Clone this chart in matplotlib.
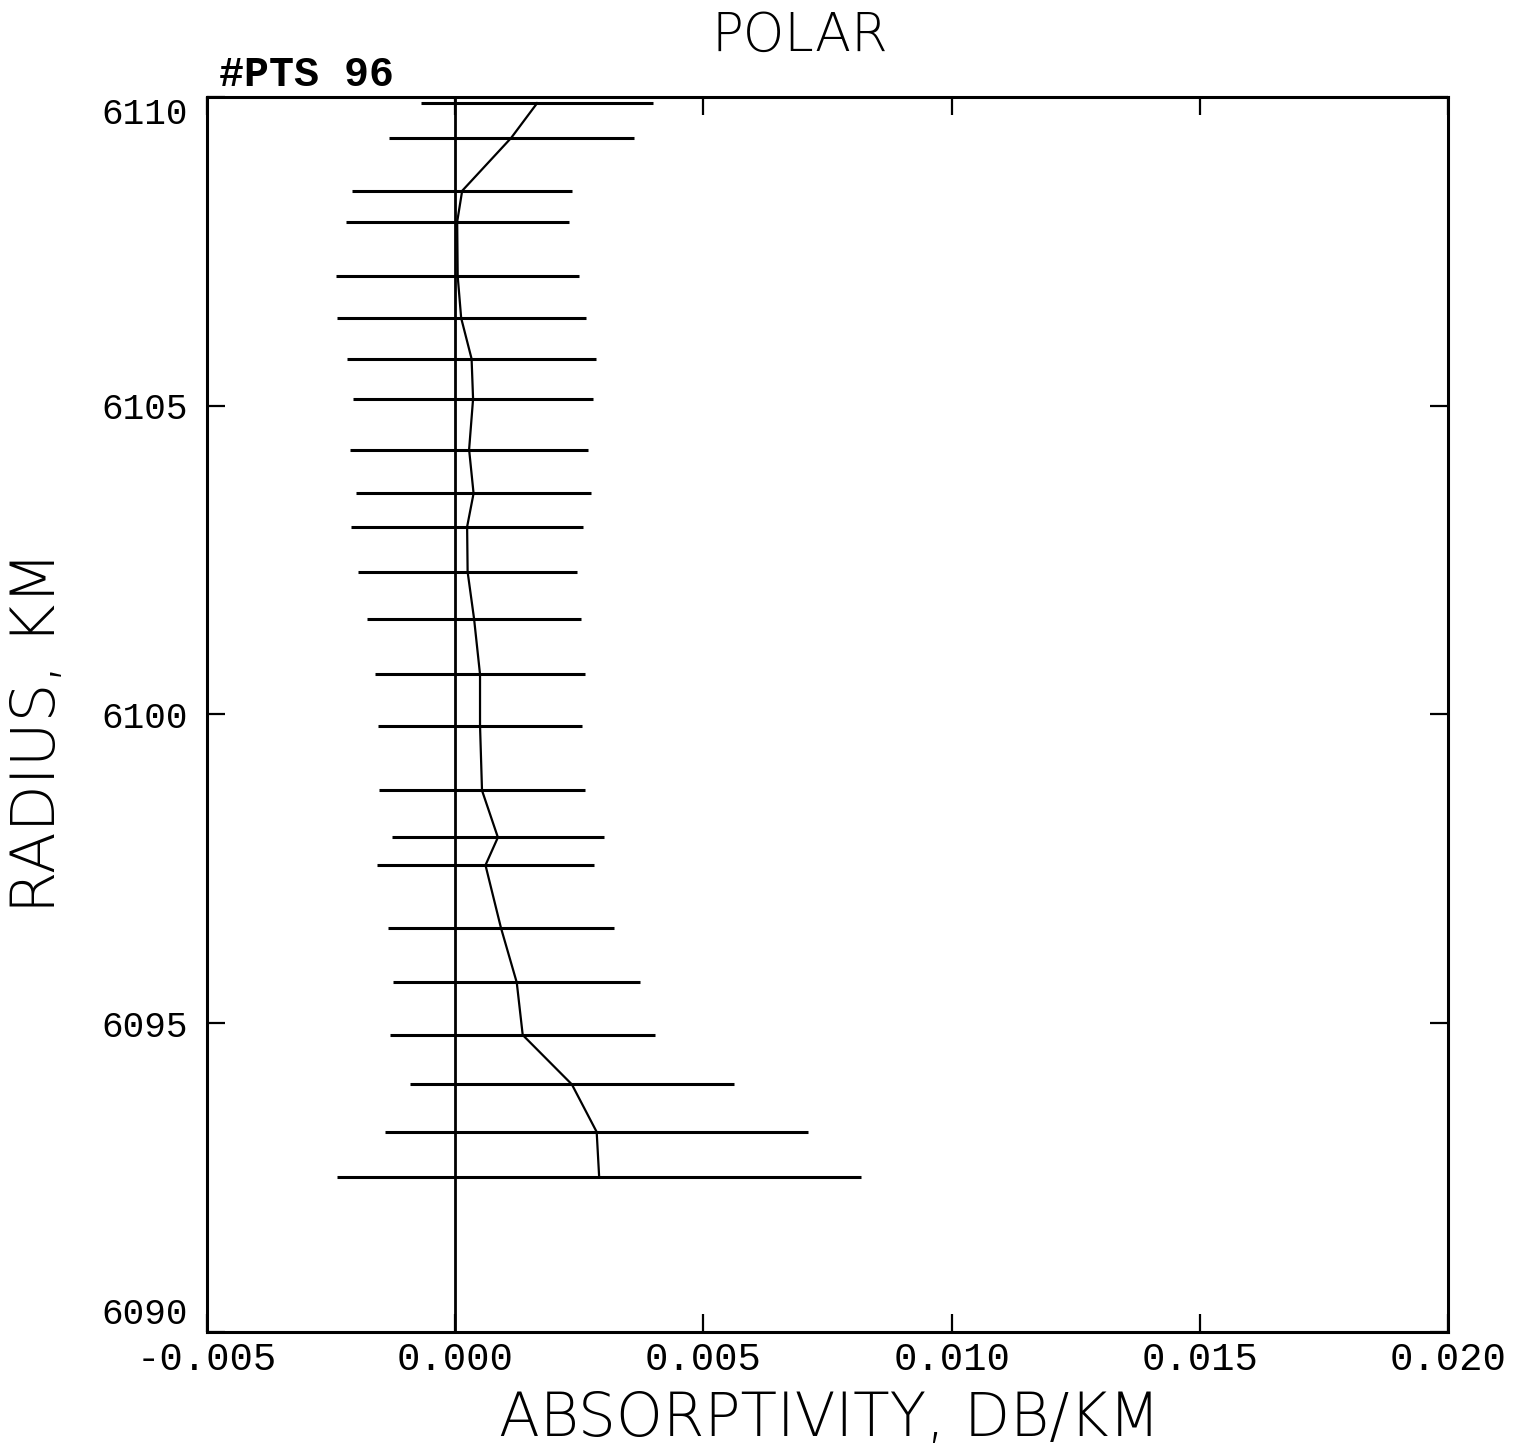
import matplotlib
matplotlib.use("Agg")
import matplotlib.pyplot as plt

# Data
radius_km = [6109.90, 6109.34, 6108.48, 6107.98, 6107.10, 6106.42, 6105.76, 6105.11,
             6104.29, 6103.58, 6103.04, 6102.31, 6101.55, 6100.65, 6099.82, 6098.77,
             6098.01, 6097.56, 6096.55, 6095.66, 6094.81, 6094.01, 6093.24, 6092.51]
absorptivity = [0.00165, 0.00113, 0.00014, 0.00004, 0.00005, 0.00012, 0.00033, 0.00036,
                0.00028, 0.00037, 0.00024, 0.00025, 0.00038, 0.00050, 0.00050, 0.00054,
                0.00086, 0.00061, 0.00092, 0.00124, 0.00136, 0.00235, 0.00285, 0.00290]
abs_error = [0.00234, 0.00247, 0.00222, 0.00225, 0.00245, 0.00251, 0.00250, 0.00242,
             0.00239, 0.00237, 0.00234, 0.00220, 0.00216, 0.00211, 0.00205, 0.00208,
             0.00213, 0.00219, 0.00227, 0.00249, 0.00267, 0.00326, 0.00426, 0.00528]
x_ticks = [-0.005, 0.000, 0.005, 0.010, 0.015, 0.020]
x_ticklabels = ["-0.005", "0.000", "0.005", "0.010", "0.015", "0.020"]
y_ticks = [6090, 6095, 6100, 6105, 6110]

fig = plt.figure(figsize=(15.21, 14.54), dpi=100)
ax = fig.add_axes([0.1361, 0.0839, 0.8159, 0.8494])

ax.axvline(0, color="black", lw=2.0, zorder=1)
ax.errorbar(absorptivity, radius_km, xerr=abs_error, color="black", lw=1.6,
            elinewidth=2.2, capsize=0, zorder=2)

ax.set_xlim(-0.005, 0.020)
ax.set_ylim(6090, 6110)
ax.set_xticks(x_ticks)
ax.set_xticklabels(x_ticklabels)
ax.set_yticks(y_ticks)

mono = "Liberation Mono"
for lab in ax.get_xticklabels():
    lab.set_fontfamily(mono)
    lab.set_fontsize(28)
for lab in ax.get_yticklabels():
    lab.set_fontfamily(mono)
    lab.set_fontsize(26)
ylabs = ax.get_yticklabels()
ylabs[0].set_verticalalignment("bottom")
ylabs[-1].set_verticalalignment("top")

ax.tick_params(direction="in", length=13, width=1.6, top=True, right=True)
ax.tick_params(axis="x", pad=7)
ax.tick_params(axis="y", pad=14)
for s in ax.spines.values():
    s.set_linewidth(2.2)

label_font = dict(family="DejaVu Sans", fontweight=200)
ax.set_xlabel("ABSORPTIVITY, DB/KM", fontsize=43, va="center", **label_font)
ax.xaxis.set_label_coords(0.502, -0.071)
ax.set_ylabel("RADIUS, KM", fontsize=44, va="center", **label_font)
ax.yaxis.set_label_coords(-0.136, 0.486)
fig.text(0.526, 0.975, "POLAR", ha="center", va="center", fontsize=38, **label_font)
ax.text(0.01, 1.002, "#PTS 96", transform=ax.transAxes, ha="left", va="bottom",
        fontsize=30, family=mono, fontweight="bold")

fig.savefig("out.png", dpi=100, facecolor="white")
